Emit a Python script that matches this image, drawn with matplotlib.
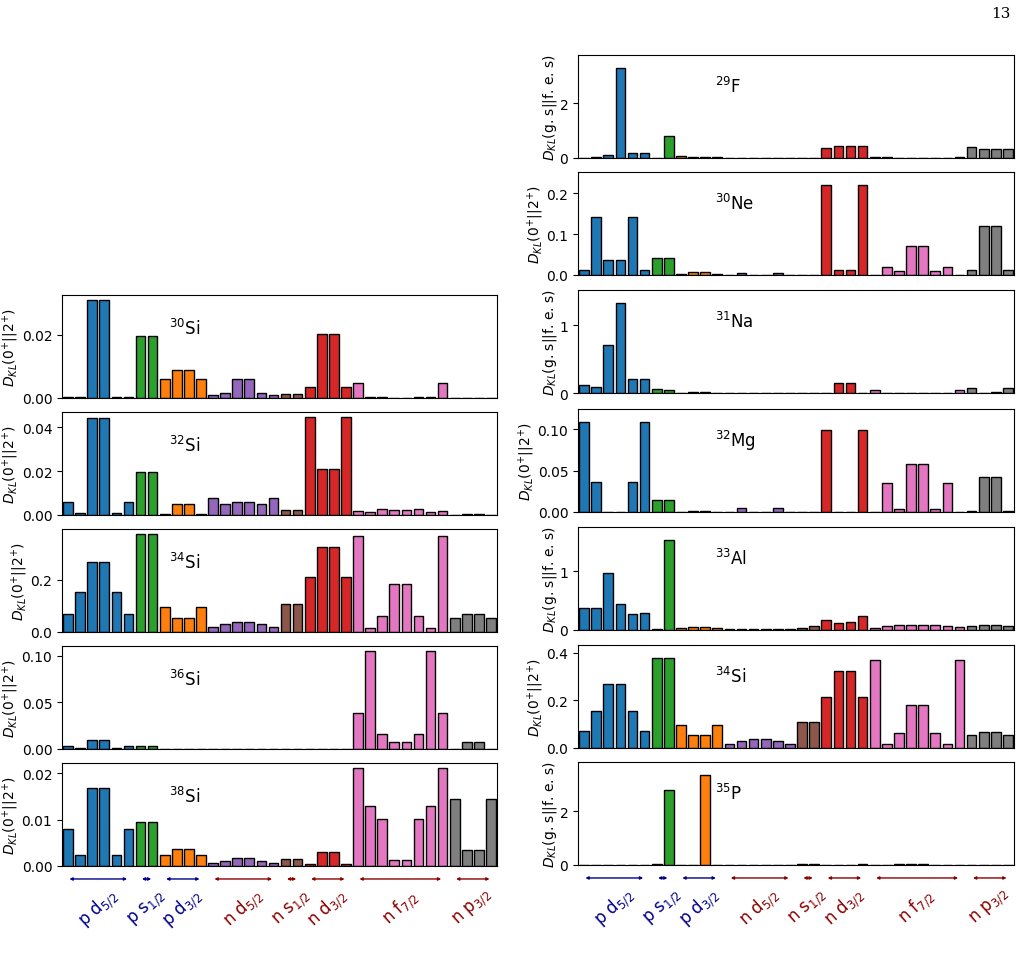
import numpy as np
import matplotlib.pyplot as plt

# orbital groups: (label, number of states, bar colour, side)
groups = [r"p d$_{5/2}$", r"p s$_{1/2}$", r"p d$_{3/2}$", r"n d$_{5/2}$",
          r"n s$_{1/2}$", r"n d$_{3/2}$", r"n f$_{7/2}$", r"n p$_{3/2}$"]
group_size = [6, 2, 4, 6, 2, 4, 8, 4]
group_color = ["tab:blue", "tab:green", "tab:orange", "tab:purple",
               "tab:brown", "tab:red", "tab:pink", "tab:gray"]
group_side = ["p", "p", "p", "n", "n", "n", "n", "n"]

si30 = [0.0003, 0.0003, 0.0311, 0.0311, 0.0003, 0.0003,
        0.0195, 0.0195,
        0.0061, 0.0090, 0.0090, 0.0061,
        0.0011, 0.0016, 0.0061, 0.0061, 0.0016, 0.0011,
        0.0014, 0.0014,
        0.0035, 0.0204, 0.0204, 0.0035,
        0.0048, 0.0002, 0.0004, 0.0001, 0.0001, 0.0004, 0.0002, 0.0048,
        0.0001, 0.0001, 0.0001, 0.0001]
si32 = [0.0057, 0.0008, 0.0440, 0.0440, 0.0008, 0.0057,
        0.0197, 0.0197,
        0.0005, 0.0049, 0.0049, 0.0005,
        0.0077, 0.0051, 0.0057, 0.0057, 0.0051, 0.0077,
        0.0023, 0.0023,
        0.0446, 0.0211, 0.0211, 0.0446,
        0.0017, 0.0012, 0.0026, 0.0023, 0.0023, 0.0026, 0.0012, 0.0017,
        0.0001, 0.0005, 0.0005, 0.0001]
si34 = [0.071, 0.154, 0.270, 0.270, 0.154, 0.071,
        0.377, 0.377,
        0.097, 0.055, 0.055, 0.097,
        0.018, 0.031, 0.039, 0.039, 0.031, 0.018,
        0.108, 0.108,
        0.213, 0.325, 0.325, 0.213,
        0.370, 0.015, 0.063, 0.183, 0.183, 0.063, 0.015, 0.370,
        0.053, 0.068, 0.068, 0.053]
si36 = [0.0033, 0.0007, 0.0095, 0.0095, 0.0007, 0.0033,
        0.0033, 0.0033,
        0.0002, 0.0002, 0.0002, 0.0002,
        0.0003, 0.0003, 0.0005, 0.0003, 0.0003, 0.0005,
        0.0002, 0.0002,
        0.0002, 0.0003, 0.0003, 0.0002,
        0.0385, 0.1050, 0.0164, 0.0080, 0.0080, 0.0164, 0.1050, 0.0385,
        0.0005, 0.0080, 0.0080, 0.0005]
si38 = [0.0080, 0.0023, 0.0169, 0.0169, 0.0023, 0.0080,
        0.0096, 0.0096,
        0.0024, 0.0036, 0.0036, 0.0024,
        0.0007, 0.0010, 0.0018, 0.0018, 0.0010, 0.0007,
        0.0015, 0.0015,
        0.0005, 0.0031, 0.0031, 0.0005,
        0.0212, 0.0129, 0.0101, 0.0013, 0.0013, 0.0101, 0.0129, 0.0212,
        0.0144, 0.0034, 0.0034, 0.0144]

f29 = [0.01, 0.02, 0.10, 3.26, 0.17, 0.20,
       0.01, 0.80,
       0.06, 0.03, 0.02, 0.02,
       0.01, 0.01, 0.01, 0.01, 0.01, 0.01,
       0.01, 0.01,
       0.35, 0.42, 0.45, 0.42,
       0.03, 0.02, 0.01, 0.01, 0.01, 0.01, 0.01, 0.02,
       0.39, 0.34, 0.32, 0.32]
ne30 = [0.0125, 0.143, 0.0355, 0.0355, 0.143, 0.0125,
        0.042, 0.042,
        0.002, 0.007, 0.007, 0.002,
        0.001, 0.004, 0.0005, 0.0005, 0.004, 0.001,
        0.0005, 0.0005,
        0.219, 0.0115, 0.0115, 0.219,
        0.001, 0.019, 0.010, 0.070, 0.070, 0.010, 0.019, 0.001,
        0.0115, 0.121, 0.121, 0.0115]
na31 = [0.12, 0.085, 0.71, 1.32, 0.20, 0.20,
        0.06, 0.04,
        0.005, 0.01, 0.01, 0.005,
        0.003, 0.003, 0.003, 0.003, 0.003, 0.003,
        0.002, 0.002,
        0.005, 0.145, 0.145, 0.005,
        0.045, 0.003, 0.003, 0.003, 0.003, 0.003, 0.003, 0.045,
        0.08, 0.005, 0.01, 0.08]
mg32 = [0.108, 0.0363, 0.0002, 0.0002, 0.0363, 0.108,
        0.0145, 0.0145,
        0.0002, 0.001, 0.001, 0.0002,
        0.0002, 0.0052, 0.0002, 0.0002, 0.0052, 0.0002,
        0.0002, 0.0002,
        0.099, 0.0002, 0.0002, 0.099,
        0.0002, 0.0347, 0.0036, 0.0577, 0.0577, 0.0036, 0.0347, 0.0002,
        0.001, 0.042, 0.042, 0.001]
al33 = [0.37, 0.37, 0.97, 0.445, 0.27, 0.29,
        0.01, 1.53,
        0.03, 0.045, 0.045, 0.03,
        0.02, 0.015, 0.01, 0.01, 0.012, 0.02,
        0.03, 0.065,
        0.175, 0.12, 0.145, 0.245,
        0.04, 0.065, 0.08, 0.08, 0.085, 0.08, 0.07, 0.045,
        0.065, 0.08, 0.08, 0.06]
p35 = [0.01, 0.01, 0.01, 0.01, 0.01, 0.01,
       0.03, 2.79,
       0.01, 0.01, 3.32, 0.01,
       0.01, 0.01, 0.01, 0.01, 0.01, 0.01,
       0.03, 0.03,
       0.01, 0.01, 0.01, 0.03,
       0.01, 0.01, 0.02, 0.02, 0.02, 0.01, 0.01, 0.01,
       0.01, 0.01, 0.01, 0.01]

lab_trans = r"$D_{KL}(0^{+}||2^{+})$"
lab_fes = r"$D_{KL}$(g. s||f. e. s)"

left_panels = [(r"$^{30}$Si", si30), (r"$^{32}$Si", si32), (r"$^{34}$Si", si34),
               (r"$^{36}$Si", si36), (r"$^{38}$Si", si38)]
right_panels = [(r"$^{29}$F", f29, lab_fes), (r"$^{30}$Ne", ne30, lab_trans),
                (r"$^{31}$Na", na31, lab_fes), (r"$^{32}$Mg", mg32, lab_trans),
                (r"$^{33}$Al", al33, lab_fes), (r"$^{34}$Si", si34, lab_trans),
                (r"$^{35}$P", p35, lab_fes)]

colors = []
for c, n in zip(group_color, group_size):
    colors += [c] * n
x = np.arange(len(colors))
starts = np.cumsum([0] + group_size[:-1])

W, H = 1024, 978
fig = plt.figure(figsize=(W / 100, H / 100), dpi=100)


def draw(ax, vals, name, ylab, tx, ty, scale):
    ax.bar(x, vals, width=0.8, color=colors, edgecolor="black", linewidth=1)
    ax.set_xlim(-0.5, len(x) - 0.5)
    if scale is not None:
        ax.set_ylim(0, max(vals) * scale)
    ax.set_xticks([])
    ax.set_ylabel(ylab, fontsize=10, labelpad=0.5)
    ax.tick_params(axis="y", labelsize=10)
    ax.text(tx, ty, name, transform=ax.transAxes, fontsize=12, ha="left", va="center")


def orbit_labels(ax):
    tr = ax.get_xaxis_transform()
    for g, n, s0, side in zip(groups, group_size, starts, group_side):
        col = "darkblue" if side == "p" else "darkred"
        ax.annotate("", xy=(s0 + n - 1, -0.126), xytext=(s0, -0.126), xycoords=tr,
                    textcoords=tr, annotation_clip=False,
                    arrowprops=dict(arrowstyle="<|-|>", color=col, lw=1,
                                    mutation_scale=4, shrinkA=1, shrinkB=1))
        ax.text(s0 + (n - 1) / 2, -0.40, g, transform=tr, color=col, fontsize=12,
                rotation=42, ha="center", va="center")


left_bottoms = [399, 516, 633, 750, 867]
for (name, vals), b in zip(left_panels, left_bottoms):
    ax = fig.add_axes([62 / W, 1 - b / H, 435 / W, 103 / H])
    draw(ax, vals, name, lab_trans, 0.245, 0.68, None)
orbit_labels(ax)

right_bottoms = [159, 276, 394, 513, 631, 749, 866]
for (name, vals, ylab), b in zip(right_panels, right_bottoms):
    ax = fig.add_axes([578 / W, 1 - b / H, 436 / W, 103 / H])
    draw(ax, vals, name, ylab, 0.315, 0.70, 1.15)
orbit_labels(ax)

fig.text(0.977, 0.986, "13", fontsize=11, family="DejaVu Serif", ha="center", va="center")

fig.savefig("out.png", dpi=100)
